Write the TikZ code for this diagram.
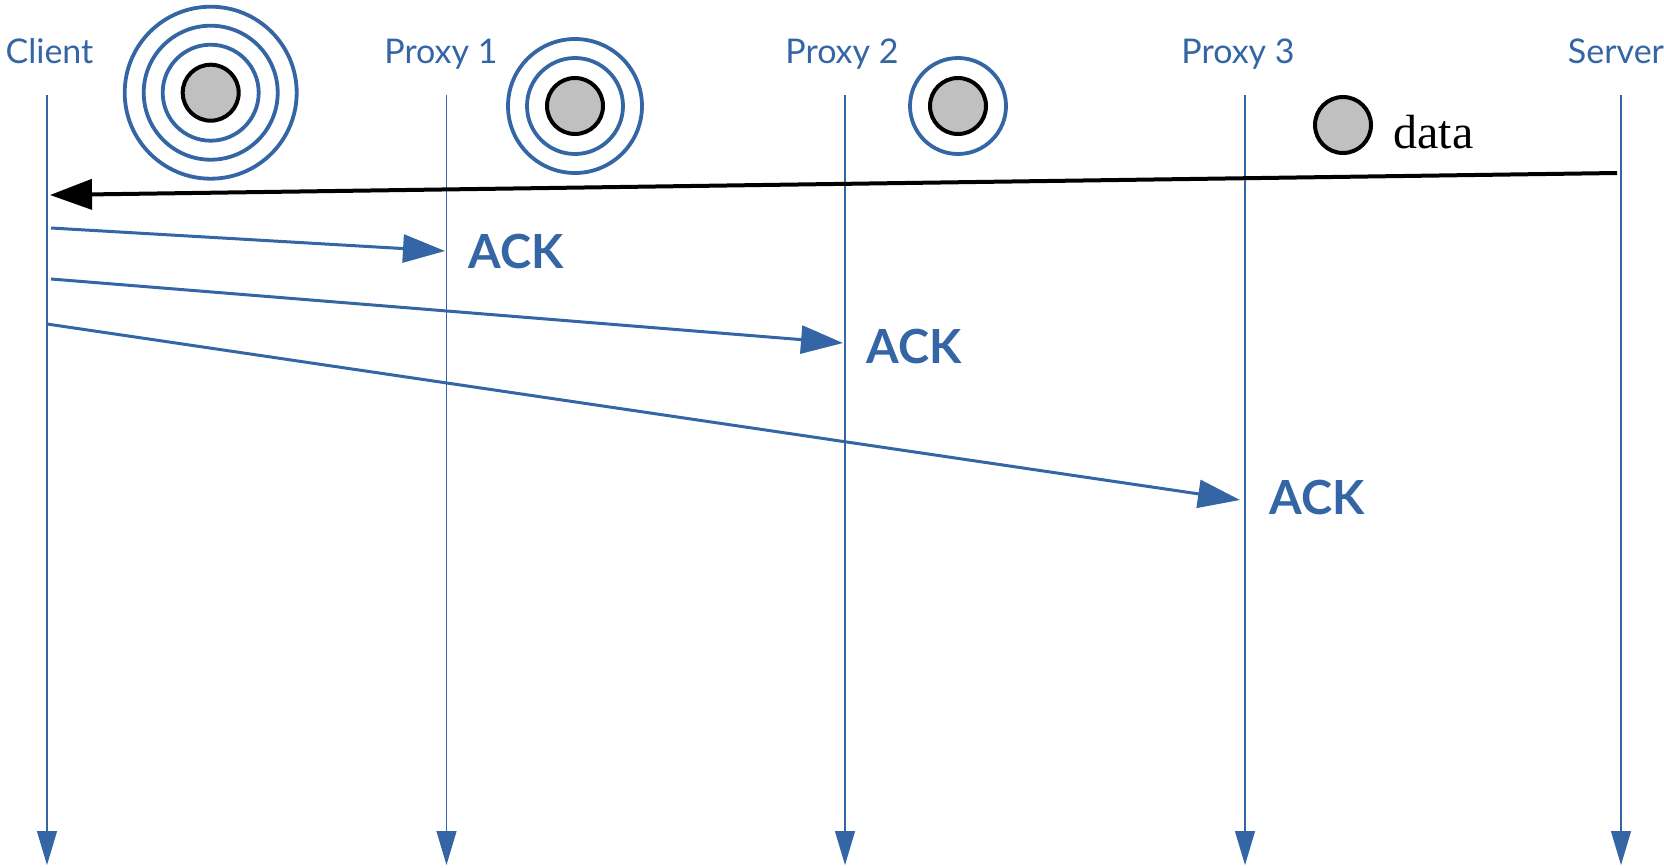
\documentclass[tikz,border=0pt]{standalone}
\usepackage{fontspec}
\setmainfont{Lato}
\newfontfamily\datafont{Liberation Serif}
\usetikzlibrary{arrows.meta}
\definecolor{lane}{RGB}{52,101,164}
\definecolor{pkt}{RGB}{192,192,192}
\begin{document}
\begin{tikzpicture}[x=0.5pt,y=-0.5pt,
  lifeline/.style={draw=lane, line width=0.6pt, -{Triangle[length=17pt,width=10pt]}},
  msg/.style={draw=lane, line width=1.5pt, -{Triangle[length=21pt,width=14pt]}},
  datamsg/.style={draw=black, line width=2pt, -{Triangle[length=21pt,width=15pt]}},
  role/.style={text=lane, font=\fontsize{17}{20}\selectfont, anchor=base, inner sep=0pt},
  ack/.style={text=lane, font=\bfseries\fontsize{23.5}{28}\selectfont, anchor=west, inner sep=0pt},
  ring/.style={draw=lane, line width=1.9pt},
  packet/.style={draw=black, fill=pkt, line width=2pt}]
\useasboundingbox (0,0) rectangle (1664,867);

% lifelines
\foreach \n/\x in {cl/47, pa/446.5, pb/845, pc/1245, sv/1621}{
  \coordinate (\n-top) at (\x,95);
  \coordinate (\n-end) at (\x,865);
  \draw[lifeline] (\n-top) -- (\n-end);
}

% role labels
\node[role] (lcl) at (49.5,63) {Client};
\node[role] (lpa) at (441,63) {Proxy 1};
\node[role] (lpb) at (842,63) {Proxy 2};
\node[role] (lpc) at (1238,63) {Proxy 3};
\node[role] (lsv) at (1616,63) {Server};

% data packet travelling from the server
\coordinate (d-src) at (1617,173);
\coordinate (d-dst) at (50,195);
\draw[datamsg] (d-src) -- (d-dst);

% acknowledgements
\coordinate (a1-src) at (51,228);
\coordinate (a1-dst) at (445,251);
\coordinate (a2-src) at (51,279);
\coordinate (a2-dst) at (843,343);
\coordinate (a3-src) at (47,324);
\coordinate (a3-dst) at (1240,500);
\draw[msg] (a1-src) -- (a1-dst);
\draw[msg] (a2-src) -- (a2-dst);
\draw[msg] (a3-src) -- (a3-dst);
\node[ack] (k1) at (468,252) {ACK};
\node[ack] (k2) at (866,347) {ACK};
\node[ack] (k3) at (1269,498) {ACK};

% packets with their rings
\draw[ring] (210.7,92.7) circle[radius=43pt];
\draw[ring] (210.7,92.7) circle[radius=33.5pt];
\draw[ring] (210.7,92.7) circle[radius=24pt];
\draw[packet] (210.7,92.7) circle[radius=14pt];

\draw[ring] (575,106) circle[radius=33.5pt];
\draw[ring] (575,106) circle[radius=24pt];
\draw[packet] (575,106) circle[radius=14pt];

\draw[ring] (958,106) circle[radius=24pt];
\draw[packet] (958,106) circle[radius=14pt];

\draw[packet] (1343,125) circle[radius=14pt];
\node[anchor=base west, inner sep=0pt, font=\datafont\fontsize{24}{28}\selectfont] (dl) at (1393,148) {data};
\end{tikzpicture}
\end{document}
